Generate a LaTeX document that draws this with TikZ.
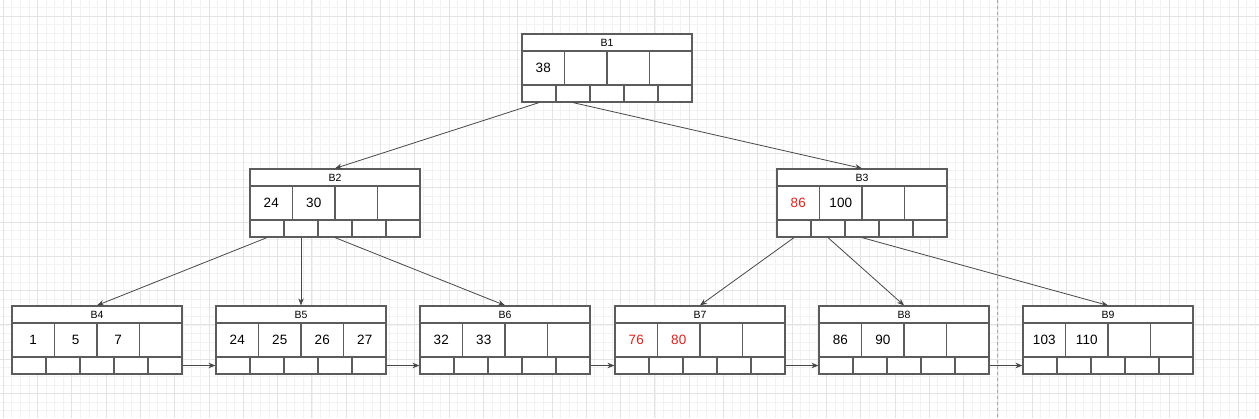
\documentclass[tikz,border=0pt]{standalone}
\usepackage{fontspec}
\setmainfont{Liberation Sans}
\usepackage{tikz}
\usetikzlibrary{arrows,arrows.meta}
\tikzset{>=stealth}
\definecolor{keyred}{HTML}{E0201E}
\tikzset{
  cellbox/.style={draw=black!64, line width=1.2pt, inner sep=0pt, fill=white},
  titlebox/.style={cellbox, minimum width=170pt, minimum height=17pt, font=\fontsize{10.5}{12}\selectfont},
  keybox/.style={cellbox, minimum width=42.5pt, minimum height=34pt, font=\fontsize{13.5}{16}\selectfont},
  ptrbox/.style={cellbox, minimum width=34pt, minimum height=17pt},
  link/.style={-{Stealth[length=7pt, width=5.5pt]}, draw=black!72, line width=0.8pt},
  minorgrid/.style={draw=black!5, line width=0.4pt},
  majorgrid/.style={draw=black!11, line width=0.5pt}
}
% one B+ tree page: name, left, top, title, four keys
\newcommand\bpage[8]{%
  \begin{scope}[shift={(#2,#3)}]
    \node[titlebox] (#1) at (85,8.5) {#4};
    \node[keybox] (#1-k1) at (21.25,34) {#5};
    \node[keybox] (#1-k2) at (63.75,34) {#6};
    \node[keybox] (#1-k3) at (106.25,34) {#7};
    \node[keybox] (#1-k4) at (148.75,34) {#8};
    \foreach \i in {1,...,5}
      \node[ptrbox] (#1-p\i) at ({17+34*(\i-1)},59.5) {};
  \end{scope}}

\begin{document}
\begin{tikzpicture}[x=1pt, y=-1pt]
  \useasboundingbox (0,0) rectangle (1259,418);
  \fill[white] (0,0) rectangle (1259,418);
  % grid
  \begin{scope}[shift={(3,16)}]
    \draw[minorgrid, step=8.575pt] (-3,-16) grid (1256,402);
    \draw[majorgrid, step=34.3pt] (-3,-16) grid (1256,402);
  \end{scope}
  \draw[black!35, dashed, line width=0.6pt] (997,0) -- (997,418);

  % root
  \bpage{B1}{522}{34}{B1}{38}{}{}{}
  % inner pages
  \bpage{B2}{250}{169}{B2}{24}{30}{}{}
  \bpage{B3}{777}{169}{B3}{\textcolor{keyred}{86}}{100}{}{}
  % leaves
  \bpage{B4}{12}{306}{B4}{1}{5}{7}{}
  \bpage{B5}{216}{306}{B5}{24}{25}{26}{27}
  \bpage{B6}{420}{306}{B6}{32}{33}{}{}
  \bpage{B7}{615}{306}{B7}{\textcolor{keyred}{76}}{\textcolor{keyred}{80}}{}{}
  \bpage{B8}{819}{306}{B8}{86}{90}{}{}
  \bpage{B9}{1023}{306}{B9}{103}{110}{}{}

  % child pointers
  \draw[link] (B1-p1.south) -- (B2.north);
  \draw[link] (B1-p2.south) -- (B3.north);
  \draw[link] (B2-p1.south) -- (B4.north);
  \draw[link] (B2-p2.south) -- (B5.north);
  \draw[link] (B2-p3.south) -- (B6.north);
  \draw[link] (B3-p1.south) -- (B7.north);
  \draw[link] (B3-p2.south) -- (B8.north);
  \draw[link] (B3-p3.south) -- (B9.north);
  % leaf chain
  \foreach \a/\b in {B4/B5, B5/B6, B6/B7, B7/B8, B8/B9}
    \draw[link] (\a-p5.east) -- (\b-p1.west);
\end{tikzpicture}
\end{document}
